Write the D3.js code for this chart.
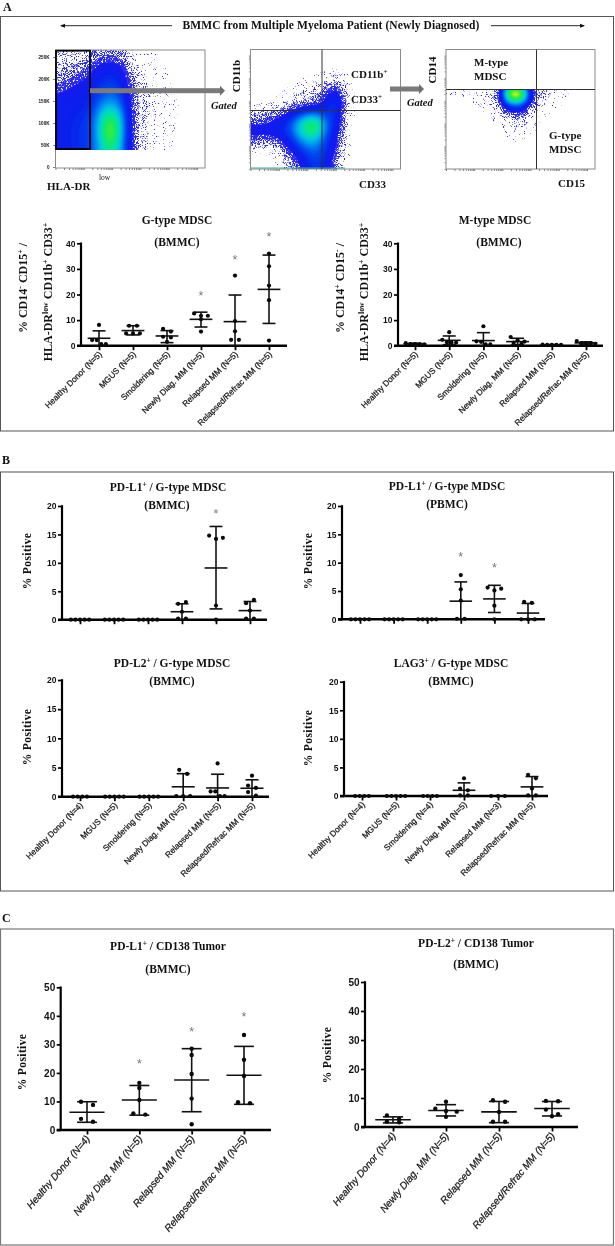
<!DOCTYPE html>
<html>
<head>
<meta charset="utf-8">
<script src="https://cdn.jsdelivr.net/npm/d3@7"></script>
<style>
  html, body { margin: 0; padding: 0; background: #fff; }
  svg { display: block; opacity: 0.999; }
  text { font-family: "Liberation Serif", serif; fill: #111; }
  .cat text, .ynum text { font-family: "Liberation Sans", Arial, sans-serif; }
</style>
</head>
<body>
<svg id="fig" width="615" height="1246"></svg>
<script>
// group labels
const groupsFullN5 = ['Healthy Donor (N=5)', 'MGUS (N=5)', 'Smoldering (N=5)', 'Newly Diag. MM (N=5)', 'Relapsed MM (N=5)', 'Relapsed/Refrac MM (N=5)'];
const groupsPdL2 = ['Healthy Donor (N=4)', 'MGUS (N=5)', 'Smoldering (N=5)', 'Newly Diag. MM (N=5)', 'Relapsed MM (N=5)', 'Relapsed/Refrac MM (N=5)'];
const groupsLag3 = ['Healthy Donor (N=4)', 'MGUS (N=5)', 'Smoldering (N=4)', 'Newly Diag. MM (N=5)', 'Relapsed MM (N=3)', 'Relapsed/Refrac MM (N=5)'];
const groupsTumor = ['Healthy Donor (N=4)', 'Newly Diag. MM (N=5)', 'Relapsed MM (N=5)', 'Relapsed/Refrac MM (N=5)'];

// panel A, G-type
const gTypePoints = [[8.1, 2.2, 2.2, 0.6, 0.6], [7.8, 7.8, 4.8, 4.8, 4.8], [6.6, 5.5, 3.5, 3.2, 1.5], [12.6, 11.7, 11.7, 10.3, 5.5], [27.4, 9.6, 5.6, 2.3, 2.3], [36, 31, 23.5, 17.8, 2]];
const gTypeMean = [2.9, 5.9, 3.8, 10.3, 9.4, 22];
const gTypeUpper = [5.8, 7.8, 5.9, 13.1, 19.8, 35.4];
const gTypeLower = [0, 4.2, 1.2, 7.3, 0, 8.7];
const gTypeStars = [null, null, null, 20, 34, 43];

// panel A, M-type
const mTypePoints = [[1, 0.6, 0.6, 0.5, 0.5], [5.3, 2.3, 1.3, 1.2, 1.2], [7.6, 1.7, 1.5, 0.5, 0.5], [3.4, 2.1, 1.6, 1.2, 0.7], [0.4, 0.3, 0.3, 0.3, 0.3], [1.8, 1, 1, 0.8, 0.7]];
const mTypeMean = [0.7, 2.1, 2, 1.6, 0.3, 1.1];
const mTypeUpper = [1, 3.8, 5.1, 2.9, 0.45, 1.5];
const mTypeLower = [0.4, 0.4, 0, 0.4, 0.15, 0.6];
const mTypeStars = [null, null, null, null, null, null];

// panel B
const pdl1BmmcPoints = [[0, 0, 0, 0, 0], [0, 0, 0, 0, 0], [0, 0, 0, 0, 0], [2.8, 3.1, 1.4, 0.2, 0.2], [14.8, 14.2, 14.4, 2.5, 0], [2.9, 3.5, 1.6, 0.2, 0.2]];
const pdl1BmmcMean = [0, 0, 0, 1.4, 9.1, 1.6];
const pdl1BmmcUpper = [0, 0, 0, 2.8, 16.4, 3.2];
const pdl1BmmcLower = [0, 0, 0, 0, 1.9, 0];
const pdl1BmmcStars = [null, null, null, null, 18.9, null];

const pdl1PbmcPoints = [[0, 0, 0, 0, 0], [0, 0, 0, 0, 0], [0, 0, 0, 0, 0], [7.8, 5.3, 3.3, 0.1, 0.1], [5.6, 5.1, 5.4, 2.4, 0], [3.1, 2.9, 0, 0, 0]];
const pdl1PbmcMean = [0, 0, 0, 3.2, 3.6, 1.1];
const pdl1PbmcUpper = [0, 0, 0, 6.6, 6, 2.8];
const pdl1PbmcLower = [0, 0, 0, 0, 1.2, 0];
const pdl1PbmcStars = [null, null, null, 11.3, 9.4, null];

const pdl2BmmcPoints = [[0, 0, 0, 0], [0, 0, 0, 0, 0], [0, 0, 0, 0, 0], [4.6, 3.9, 0.1, 0.1, 0.1], [5.7, 0.9, 0.9, 0.1, 0.1], [3.6, 1.9, 1.5, 0.8, 0.2]];
const pdl2BmmcMean = [0, 0, 0, 1.7, 1.5, 1.45];
const pdl2BmmcUpper = [0, 0, 0, 3.95, 3.85, 2.9];
const pdl2BmmcLower = [0, 0, 0, 0, 0, 0];

const lag3BmmcPoints = [[0, 0, 0, 0], [0, 0, 0, 0, 0], [0, 0, 0, 0], [3.1, 1.3, 1, 0.1, 0.1], [0, 0, 0], [3.7, 3.1, 1.3, 0.1, 0.1]];
const lag3BmmcMean = [0, 0, 0, 1, 0, 1.6];
const lag3BmmcUpper = [0, 0, 0, 2.3, 0, 3.4];
const lag3BmmcLower = [0, 0, 0, 0, 0, 0];

// panel C
const tumorL1Points = [[9.9, 8.8, 3.9, 2.9], [16.5, 14.7, 10.5, 5.8, 5.4], [28.5, 26.3, 19.6, 11, 2], [33.3, 24.6, 18.9, 9.7, 9.4]];
const tumorL1Mean = [6.2, 10.5, 17.5, 19.2];
const tumorL1Upper = [9.9, 15.6, 28.5, 29.3];
const tumorL1Lower = [2.7, 5.2, 6.4, 9];
const tumorL1Stars = [null, 23.6, 35, 40];

const tumorL2Points = [[4, 2.8, 1.9, 1.6], [8.7, 6.3, 5.5, 5.3, 3.5], [9.2, 8.7, 5.2, 1.8, 1.8], [9, 8.9, 6, 4.4, 3.7]];
const tumorL2Mean = [2.5, 5.7, 5.2, 6.4];
const tumorL2Upper = [3.5, 7.7, 8.8, 8.8];
const tumorL2Lower = [1.4, 3.8, 1.5, 3.8];

const densityHla = [
  [1, 1, 1, 1, 1.5, 1.5, 1.4, 0.7, 0.4, 0.4, 0.2, 0, 0, 0, 0],
  [1.1, 1.1, 1.3, 1.6, 2.5, 2.5, 2.5, 1, 0.5, 0.5, 0.3, 0.2, 0, 0, 0],
  [1.3, 1.6, 1.7, 2.2, 3, 3.5, 3, 1.4, 0.7, 0.6, 0.4, 0.2, 0.1, 0, 0],
  [1.6, 2, 2.4, 2.8, 3.5, 4, 3.5, 1.7, 0.8, 0.7, 0.4, 0.25, 0.2, 0.1, 0],
  [2.3, 2.7, 3, 3, 4, 4.8, 4.2, 1.9, 0.9, 0.7, 0.5, 0.3, 0.2, 0.2, 0],
  [2.6, 2.9, 3, 3.2, 5, 6, 5, 1.9, 0.9, 0.7, 0.5, 0.3, 0.25, 0.2, 0],
  [2.8, 3, 3.3, 3.5, 6, 9, 6, 2, 0.9, 0.7, 0.4, 0.3, 0.25, 0.1, 0],
  [2.8, 3.2, 3.5, 3.7, 6.5, 11, 6.5, 2, 0.9, 0.6, 0.4, 0.3, 0.2, 0, 0],
  [2.8, 3.2, 3.5, 3.7, 6.5, 11, 6.5, 2, 0.9, 0.6, 0.4, 0.3, 0.2, 0, 0],
  [2.8, 3.2, 3.5, 3.7, 6, 9.5, 6, 2, 0.9, 0.6, 0.4, 0.3, 0.15, 0, 0],
  [2.8, 3.2, 3.5, 3.7, 6, 8, 6, 2, 0.9, 0.6, 0.4, 0.3, 0.15, 0, 0],
  [2.8, 3.2, 3.5, 3.7, 6, 8, 6, 2, 0.9, 0.6, 0.4, 0.3, 0.15, 0, 0]
];
const densityCd33 = [
  [0, 0, 0, 0, 0, 0, 0, 0, 0, 0, 0, 0, 0, 0, 0],
  [0, 0, 0, 0, 0, 0, 0, 0, 0, 0, 0, 0, 0, 0, 0],
  [0, 0, 0, 0, 0, 0, 0.3, 0.3, 0.9, 0.3, 0, 0, 0, 0, 0],
  [0, 0, 0, 0, 0.3, 0.6, 0.8, 0.7, 2, 0.5, 0, 0, 0, 0, 0],
  [0, 0, 0.2, 0.4, 0.8, 0.9, 1, 1.5, 4, 0.7, 0.1, 0, 0, 0, 0],
  [0, 0.2, 0.4, 0.8, 1, 1.2, 1.6, 2.5, 4.5, 0.8, 0.1, 0, 0, 0, 0],
  [1, 1.2, 1.6, 2.2, 3.5, 4.5, 5, 3.5, 4, 0.7, 0.1, 0, 0, 0, 0],
  [2.5, 2.5, 2.8, 3.5, 5.5, 9, 11, 4.5, 3.5, 0.5, 0.1, 0, 0, 0, 0],
  [2.6, 2.5, 2.7, 3.2, 5, 7.5, 8, 4, 3, 0.4, 0.1, 0, 0, 0, 0],
  [1.2, 0.9, 1, 2, 3.5, 5, 5.5, 3.5, 2.5, 0.4, 0, 0, 0, 0, 0],
  [0.1, 0.1, 0.2, 1.1, 2.4, 3.5, 4.5, 3.5, 2, 0.3, 0, 0, 0, 0, 0],
  [0, 0, 0, 0.8, 1.6, 2.6, 4, 3, 1.5, 0.2, 0, 0, 0, 0, 0]
];
const densityCd15 = [
  [0, 0, 0, 0, 0, 0, 0, 0, 0, 0, 0, 0, 0, 0, 0],
  [0, 0, 0, 0, 0, 0, 0, 0, 0, 0, 0, 0, 0, 0, 0],
  [0, 0, 0, 0, 0, 0, 0, 0, 0, 0, 0, 0, 0, 0, 0],
  [0.3, 0.3, 0.35, 0.4, 0.8, 1.5, 5, 5, 1.6, 0.8, 0.6, 0.4, 0.3, 0.1, 0],
  [0.3, 0.3, 0.35, 0.5, 1, 1.8, 13, 13, 2.4, 1.2, 0.8, 0.5, 0.3, 0.1, 0],
  [0.1, 0.1, 0.2, 0.3, 0.7, 1.5, 4.5, 4.5, 1.8, 0.8, 0.5, 0.35, 0.2, 0.1, 0],
  [0, 0, 0.1, 0.1, 0.3, 0.6, 1.5, 1.6, 0.9, 0.3, 0.2, 0.1, 0, 0, 0],
  [0, 0, 0, 0.1, 0.15, 0.3, 0.8, 1, 0.5, 0.2, 0.1, 0, 0, 0, 0],
  [0, 0, 0, 0, 0.1, 0.2, 0.3, 0.35, 0.3, 0.1, 0, 0, 0, 0, 0],
  [0, 0, 0, 0, 0, 0.1, 0.25, 0.25, 0, 0, 0, 0, 0, 0, 0],
  [0, 0, 0, 0, 0, 0, 0, 0, 0, 0, 0, 0, 0, 0, 0],
  [0, 0, 0, 0, 0, 0, 0, 0, 0, 0, 0, 0, 0, 0, 0]
];
const speckleLevels = [0.25, 0.7, 1.2, 1.7];
const speckleCutoffs = [0.66, 0.58, 0.5, 0.42];
const solidLevels = d3.range(2.2, 15, 0.25);
const solidStops = [2, 3, 4, 5, 6, 7, 8, 9, 10, 11, 12, 13];
const solidColors = ['#1818f0', '#0820ec', '#0048f0', '#0088f0', '#00c0e8', '#00e0b0', '#10e870', '#40ec30', '#c0f020', '#f0c020', '#f06020', '#e82818'];
const hlaTicks = [0, 50000, 100000, 150000, 200000, 250000];

const svg = d3.select('#fig');
const defs = svg.append('defs');
const solidColor = d3.scaleLinear().domain(solidStops).range(solidColors).clamp(true);

// dotty look for the thin outer part of the flow clouds
speckleCutoffs.forEach((cut, i) => {
  const f = defs.append('filter').attr('id', 'speckle' + i)
    .attr('color-interpolation-filters', 'sRGB')
    .attr('x', 0).attr('y', 0).attr('width', 1).attr('height', 1);
  f.append('feTurbulence').attr('type', 'fractalNoise').attr('baseFrequency', 1.1)
    .attr('numOctaves', 1).attr('seed', 3 + i).attr('result', 'n');
  f.append('feColorMatrix').attr('in', 'n').attr('type', 'matrix')
    .attr('values', `0 0 0 0 0  0 0 0 0 0  0 0 0 0 0  14 0 0 0 ${-14 * cut}`)
    .attr('result', 'mask');
  f.append('feComposite').attr('in', 'SourceGraphic').attr('in2', 'mask').attr('operator', 'in');
});

function richText(sel, str) {
  // "^x" marks a superscript token
  const parts = str.split(/\^(\S+)/);
  parts.forEach((p, i) => {
    if (!p) return;
    const t = sel.append('tspan').text(p);
    if (i % 2) t.attr('dy', -4).attr('font-size', '65%');
    else if (i > 0) t.attr('dy', 4);
  });
  return sel;
}

function label(x, y, str, opts = {}) {
  const t = svg.append('text')
    .attr('transform', `translate(${x},${y})` + (opts.rotate ? ` rotate(${opts.rotate})` : ''))
    .attr('text-anchor', opts.anchor || 'middle')
    .attr('font-size', opts.size || 11.5)
    .attr('font-weight', opts.weight || 'bold')
    .attr('letter-spacing', opts.spacing || 0)
    .attr('font-style', opts.italic ? 'italic' : 'normal');
  return richText(t, str);
}

function frame(x0, y0, x1, y1, color, width) {
  svg.append('rect').attr('x', x0).attr('y', y0).attr('width', x1 - x0).attr('height', y1 - y0)
    .attr('fill', 'none').attr('stroke', color).attr('stroke-width', width);
}

function arrowLine(x0, x1, y) {
  svg.append('line').attr('x1', x0).attr('x2', x1).attr('y1', y).attr('y2', y)
    .attr('stroke', '#111').attr('stroke-width', 0.9);
  const d = x1 > x0 ? 1 : -1;
  svg.append('path').attr('d', d3.line()([[x1 + d, y], [x1 - 4 * d, y - 2], [x1 - 4 * d, y + 2]])).attr('fill', '#111');
}

function grayArrow(x0, x1, y) {
  svg.append('rect').attr('x', x0).attr('y', y - 2.5).attr('width', x1 - x0 - 4).attr('height', 5).attr('fill', '#7a7a7a');
  svg.append('path').attr('d', d3.line()([[x1, y], [x1 - 5, y - 5], [x1 - 5, y + 5]])).attr('fill', '#6e6e6e');
}

function flowPlot(o) {
  const g = svg.append('g');
  const clipId = 'clip' + o.id;
  defs.append('clipPath').attr('id', clipId).append('rect')
    .attr('x', o.x).attr('y', o.clipTop || o.y).attr('width', o.w)
    .attr('height', (o.clipBottom || o.y + o.h) - (o.clipTop || o.y));

  const rows = o.grid.length, cols = o.grid[0].length, k = 5;
  const w = cols * k, h = rows * k;
  const values = new Float64Array(w * h);
  for (let j = 0; j < h; j++) for (let i = 0; i < w; i++) {
    values[j * w + i] = o.grid[Math.floor(j / k)][Math.floor(i / k)];
  }
  d3.blur2({ data: values, width: w, height: h }, o.blur || 2.5);
  const path = d3.geoPath(d3.geoIdentity().scale(o.w / w).translate([o.x, o.y]));

  const body = g.append('g').attr('clip-path', `url(#${clipId})`);
  d3.contours().size([w, h]).thresholds(speckleLevels)(values).forEach((c, i) => {
    body.append('g').attr('filter', `url(#speckle${i})`)
      .append('path').attr('d', path(c)).attr('fill', '#2a2af0');
  });
  d3.contours().size([w, h]).thresholds(solidLevels)(values).forEach(c => {
    body.append('path').attr('d', path(c)).attr('fill', solidColor(c.value));
  });

  // log style ruler ticks on the plot edges
  const xLog = d3.scaleLog().domain([1, 100000]).range([o.x, o.x + o.w - 8]);
  svg.append('g').attr('transform', `translate(0,${o.y + o.h})`)
    .call(d3.axisBottom(xLog).tickValues(xLog.ticks()).tickSize(2).tickFormat(''))
    .call(a => a.select('.domain').remove())
    .selectAll('line').attr('stroke', '#333').attr('stroke-width', 0.6);

  if (o.hla) {
    const y = d3.scaleLinear().domain([0, 250000]).range([167, 57]);
    svg.append('g').attr('class', 'ynum').attr('transform', `translate(${o.x},0)`)
      .call(d3.axisLeft(y).tickValues(hlaTicks).tickSize(2.5).tickFormat(d => d ? (d / 1000) + 'K' : '0'))
      .call(a => a.select('.domain').remove())
      .selectAll('text').attr('font-size', 4.6).attr('font-weight', 'bold').attr('dx', -0.5);
    svg.selectAll('.ynum line').attr('stroke', '#333').attr('stroke-width', 0.6);
  } else {
    const yLog = d3.scaleLog().domain([1, 100000]).range([o.y + o.h, o.y + 6]);
    svg.append('g').attr('transform', `translate(${o.x},0)`)
      .call(d3.axisLeft(yLog).tickValues(yLog.ticks()).tickSize(1.6).tickFormat(''))
      .call(a => a.select('.domain').remove())
      .selectAll('line').attr('stroke', '#444').attr('stroke-width', 0.5);
  }
  frame(o.x, o.y, o.x + o.w, o.y + o.h, '#8a8a8a', 1);
}

// spread dots of one group sideways when they sit at about the same height
function swarm(vals, y, step) {
  const bins = [];
  vals.forEach(v => {
    const last = bins[bins.length - 1];
    if (last && Math.abs(y(last[0]) - y(v)) < 5) last.push(v);
    else bins.push([v]);
  });
  const out = [];
  bins.forEach(b => {
    const gap = b.length === 2 ? step * 1.7 : (b.length === 3 ? step * 1.5 : step);
    b.forEach((v, i) => out.push({ v, dx: (i - (b.length - 1) / 2) * gap }));
  });
  return out;
}

function dotChart(o) {
  const g = svg.append('g');
  const x = d3.scalePoint().domain(o.groups).range([o.first, o.last]);
  const y = d3.scaleLinear().domain([0, o.max]).range([o.y0, o.yTop]);
  const band = x.step();

  const xAxis = d3.axisBottom(x).tickSize(4.5).tickSizeOuter(0)
    .tickFormat(o.showLabels ? (d => d) : '');
  const xg = g.append('g').attr('class', 'cat').attr('transform', `translate(0,${o.y0})`).call(xAxis);
  xg.select('.domain').remove();
  xg.selectAll('line').attr('stroke', '#000').attr('stroke-width', 1.8);
  xg.selectAll('text')
    .attr('text-anchor', 'end')
    .attr('font-size', o.labelSize || 8.3)
    .attr('font-style', o.italicLabels ? 'italic' : 'normal')
    .attr('stroke', '#222').attr('stroke-width', 0.25)
    .attr('dy', 0)
    .attr('y', 0)
    .attr('transform', `translate(3,9) rotate(${o.labelAngle || -45})`);

  const yAxis = d3.axisLeft(y).tickValues(o.ticks).tickSize(4).tickSizeOuter(0);
  const yg = g.append('g').attr('class', 'ynum').attr('transform', `translate(${o.axisX},0)`).call(yAxis);
  yg.select('.domain').remove();
  yg.selectAll('line').attr('stroke', '#000').attr('stroke-width', 1.7);
  yg.selectAll('text').attr('font-size', o.numSize || 8.5).attr('font-weight', 'bold').attr('x', -5.5);

  g.append('line').attr('x1', o.axisX).attr('x2', o.axisX).attr('y1', o.yTop - 0.8).attr('y2', o.y0 + 1)
    .attr('stroke', '#000').attr('stroke-width', 2.2);
  g.append('line').attr('x1', o.axisX - 4).attr('x2', o.xEnd).attr('y1', o.y0).attr('y2', o.y0)
    .attr('stroke', '#000').attr('stroke-width', 2.4);

  o.groups.forEach((name, i) => {
    const cx = x(name);
    const cap = band * 0.19, meanHalf = band * 0.335;
    const bars = g.append('g').attr('stroke', '#111').attr('stroke-width', 1.6);
    if (o.upper[i] > o.lower[i]) {
      bars.append('line').attr('x1', cx).attr('x2', cx).attr('y1', y(o.upper[i])).attr('y2', y(o.lower[i]));
      bars.append('line').attr('x1', cx - cap).attr('x2', cx + cap).attr('y1', y(o.upper[i])).attr('y2', y(o.upper[i]));
      bars.append('line').attr('x1', cx - cap).attr('x2', cx + cap).attr('y1', y(o.lower[i])).attr('y2', y(o.lower[i]));
      bars.append('line').attr('x1', cx - meanHalf).attr('x2', cx + meanHalf).attr('y1', y(o.mean[i])).attr('y2', y(o.mean[i]));
    }
    g.append('g').selectAll('circle').data(swarm(o.points[i], y, band * 0.135)).join('circle')
      .attr('cx', d => cx + d.dx).attr('cy', d => y(d.v)).attr('r', o.dotR || 2.1).attr('fill', '#0a0a0a');
    if (o.stars && o.stars[i] != null) {
      g.append('text').attr('x', cx).attr('y', y(o.stars[i]) + 5.5).attr('text-anchor', 'middle')
        .attr('font-size', 12.5).style('font-family', '"Liberation Sans"').style('fill', '#777').text('*');
    }
  });
}

// --- panel frames and letters
frame(0.5, 16.5, 613.5, 431, '#555', 1);
frame(0.5, 472, 613.5, 891, '#555', 1);
frame(0.5, 929, 613.5, 1245, '#777', 1.2);
label(3, 11, 'A', { anchor: 'start', size: 12 });
label(2, 464, 'B', { anchor: 'start', size: 12 });
label(2, 922, 'C', { anchor: 'start', size: 12 });

// --- flow plots
label(331, 29, 'BMMC from Multiple Myeloma Patient (Newly Diagnosed)', { size: 11.5, spacing: 0.1 });
arrowLine(172, 61, 25.7);
arrowLine(491, 584, 25.7);

flowPlot({ id: 'a', x: 55.5, y: 50, w: 149.5, h: 118, grid: densityHla, clipBottom: 150, hla: true });
flowPlot({ id: 'b', x: 250.5, y: 49.5, w: 150, h: 119.5, grid: densityCd33, blur: 2.5 });
flowPlot({ id: 'c', x: 446, y: 49.5, w: 149, h: 119.5, grid: densityCd15, clipTop: 89.5, blur: 2 });

// events piled up on the lower axis of the CD33 plot
svg.append('line').attr('x1', 251).attr('x2', 345).attr('y1', 168).attr('y2', 168)
  .attr('stroke', '#3aa8a0').attr('stroke-width', 1);

// gates
svg.append('rect').attr('x', 56).attr('y', 50.7).attr('width', 34).attr('height', 98.3)
  .attr('fill', 'none').attr('stroke', '#000').attr('stroke-width', 1.8);
[[322, 322, 49.5, 169], [250.5, 400.5, 110.5, 110.5], [536.5, 536.5, 49.5, 169], [446, 595, 89.5, 89.5]].forEach(([x1, x2, y1, y2]) => {
  svg.append('line').attr('x1', x1).attr('x2', x2).attr('y1', y1).attr('y2', y2).attr('stroke', '#333').attr('stroke-width', 1);
});
grayArrow(90, 225, 90.7);
grayArrow(390, 424, 89);

label(47, 190, 'HLA-DR', { anchor: 'start', size: 11 });
label(99, 180, 'low', { anchor: 'start', size: 7.5, weight: 'normal' });
label(359, 188, 'CD33', { anchor: 'start', size: 11 });
label(558, 187, 'CD15', { anchor: 'start', size: 11 });
label(240, 76, 'CD11b', { rotate: -90, size: 11 });
label(436, 70, 'CD14', { rotate: -90, size: 11 });
label(351, 78, 'CD11b^+', { anchor: 'start', size: 11 });
label(351, 103, 'CD33^+', { anchor: 'start', size: 11 });
label(211, 109, 'Gated', { anchor: 'start', size: 10.5, italic: true });
label(407, 106, 'Gated', { anchor: 'start', size: 10.5, italic: true });
label(474, 66, 'M-type', { anchor: 'start', size: 11 });
label(474, 80, 'MDSC', { anchor: 'start', size: 11 });
label(549, 139, 'G-type', { anchor: 'start', size: 11 });
label(549, 153, 'MDSC', { anchor: 'start', size: 11 });

// --- dot charts
dotChart({ groups: groupsFullN5, points: gTypePoints, mean: gTypeMean, upper: gTypeUpper, lower: gTypeLower, stars: gTypeStars,
  first: 99, last: 269, axisX: 81, xEnd: 287, y0: 345.7, yTop: 243.3, max: 40, ticks: [0, 10, 20, 30, 40], showLabels: true });
dotChart({ groups: groupsFullN5, points: mTypePoints, mean: mTypeMean, upper: mTypeUpper, lower: mTypeLower, stars: mTypeStars,
  first: 415, last: 586, axisX: 398, xEnd: 603, y0: 345.7, yTop: 243.3, max: 40, ticks: [0, 10, 20, 30, 40], showLabels: true });
dotChart({ groups: groupsFullN5, points: pdl1BmmcPoints, mean: pdl1BmmcMean, upper: pdl1BmmcUpper, lower: pdl1BmmcLower, stars: pdl1BmmcStars,
  first: 80, last: 250, axisX: 62, xEnd: 267, y0: 619.7, yTop: 506, max: 20, ticks: [0, 5, 10, 15, 20] });
dotChart({ groups: groupsFullN5, points: pdl1PbmcPoints, mean: pdl1PbmcMean, upper: pdl1PbmcUpper, lower: pdl1PbmcLower, stars: pdl1PbmcStars,
  first: 360, last: 528, axisX: 342, xEnd: 545, y0: 619.3, yTop: 506, max: 20, ticks: [0, 5, 10, 15, 20] });
dotChart({ groups: groupsPdL2, points: pdl2BmmcPoints, mean: pdl2BmmcMean, upper: pdl2BmmcUpper, lower: pdl2BmmcLower,
  first: 80, last: 252, axisX: 62, xEnd: 269, y0: 796.7, yTop: 680, max: 20, ticks: [0, 5, 10, 15, 20], showLabels: true });
dotChart({ groups: groupsLag3, points: lag3BmmcPoints, mean: lag3BmmcMean, upper: lag3BmmcUpper, lower: lag3BmmcLower,
  first: 362, last: 532, axisX: 344, xEnd: 548, y0: 796, yTop: 681.7, max: 20, ticks: [0, 5, 10, 15, 20], showLabels: true });
dotChart({ groups: groupsTumor, points: tumorL1Points, mean: tumorL1Mean, upper: tumorL1Upper, lower: tumorL1Lower, stars: tumorL1Stars,
  first: 87, last: 244, axisX: 60.7, xEnd: 271, y0: 1130, yTop: 987.3, max: 50, ticks: [0, 10, 20, 30, 40, 50], showLabels: true, italicLabels: true, labelSize: 10, labelAngle: -50, numSize: 10, dotR: 2.2 });
dotChart({ groups: groupsTumor, points: tumorL2Points, mean: tumorL2Mean, upper: tumorL2Upper, lower: tumorL2Lower,
  first: 393, last: 552, axisX: 365, xEnd: 578, y0: 1127, yTop: 982, max: 50, ticks: [0, 10, 20, 30, 40, 50], showLabels: true, italicLabels: true, labelSize: 10, labelAngle: -50, numSize: 10, dotR: 2.2 });

// --- chart titles
label(177, 224, 'G-type MDSC');
label(177, 246, '(BMMC)');
label(495, 224, 'M-type MDSC');
label(499, 246, '(BMMC)');
label(168, 491, 'PD-L1^+ / G-type MDSC');
label(167, 509, '(BMMC)');
label(447, 490, 'PD-L1^+ / G-type MDSC');
label(447, 508, '(PBMC)');
label(172, 667, 'PD-L2^+ / G-type MDSC');
label(172, 685, '(BMMC)');
label(451, 667, 'LAG3^+ / G-type MDSC');
label(451, 685, '(BMMC)');
label(168, 950, 'PD-L1^+ / CD138 Tumor');
label(168, 973, '(BMMC)');
label(476, 947, 'PD-L2^+ / CD138 Tumor');
label(476, 968, '(BMMC)');

// --- y axis titles
label(27, 288, '% CD14^- CD15^+ /', { rotate: -90, size: 12 });
label(52, 292, 'HLA-DR^low CD11b^+ CD33^+', { rotate: -90, size: 12 });
label(344, 288, '% CD14^+ CD15^- /', { rotate: -90, size: 12 });
label(368, 292, 'HLA-DR^low CD11b^+ CD33^+', { rotate: -90, size: 12 });
[[31, 561], [312, 561], [31, 737], [312, 738], [26, 1062], [331, 1055]].forEach(([x, y]) => {
  label(x, y, '% Positive', { rotate: -90, size: 11.5, spacing: 0.4 });
});
</script>
</body>
</html>
